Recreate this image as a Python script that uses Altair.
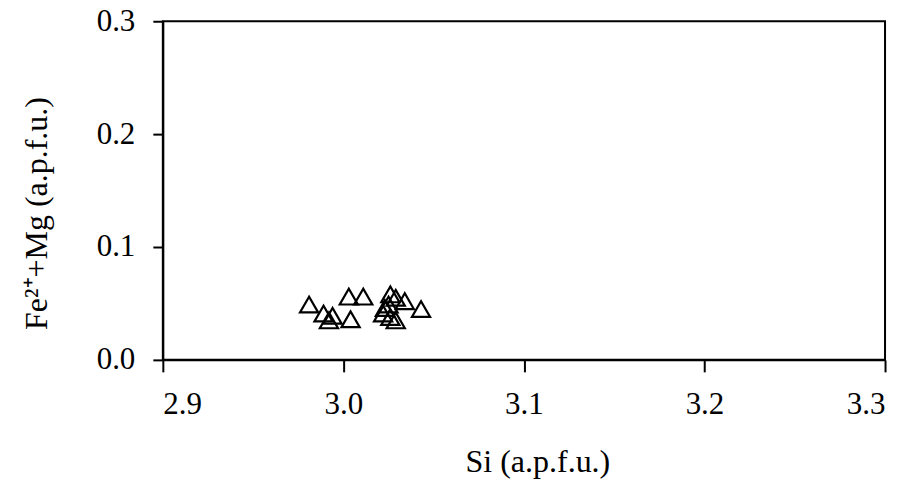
import altair as alt
import pandas as pd

si = [2.981, 2.989, 2.994, 2.992, 3.004, 3.003, 3.011, 3.026, 3.029, 3.034,
      3.022, 3.026, 3.029, 3.043, 3.025, 3.023]
fe_mg = [0.049, 0.041, 0.039, 0.035, 0.036, 0.056, 0.056, 0.058, 0.055, 0.052,
         0.041, 0.038, 0.035, 0.045, 0.049, 0.046]

x_ticks = [2.9, 3.0, 3.1, 3.2, 3.3]
y_ticks = [0.0, 0.1, 0.2, 0.3]

df = pd.DataFrame({"si": si, "femg": fe_mg})

FONT = "Liberation Serif"

chart = alt.Chart(df).mark_point(
    shape="triangle-up", size=330, filled=False, stroke="black",
    strokeWidth=2.2, opacity=1
).encode(
    x=alt.X("si:Q", scale=alt.Scale(domain=[2.9, 3.3], nice=False, zero=False),
            axis=alt.Axis(values=x_ticks, format=".1f", title="Si (a.p.f.u.)",
                          grid=False, domainColor="black", domainWidth=2,
                          tickColor="black", tickWidth=2, tickSize=12,
                          labelFont=FONT, labelFontSize=31, labelColor="black",
                          labelBaseline="alphabetic", labelPadding=42,
                          titleFont=FONT, titleFontSize=32, titleFontWeight="normal",
                          titleColor="black", titleX=375, titleY=112,
                          titleBaseline="alphabetic", titleAlign="center")),
    y=alt.Y("femg:Q", scale=alt.Scale(domain=[0, 0.3], nice=False),
            axis=alt.Axis(values=y_ticks, format=".1f", title="Fe²⁺+Mg (a.p.f.u.)",
                          grid=False, domainColor="black", domainWidth=2,
                          tickColor="black", tickWidth=2, tickSize=10,
                          labelFont=FONT, labelFontSize=31, labelColor="black",
                          labelPadding=18,
                          titleFont=FONT, titleFontSize=32, titleFontWeight="normal",
                          titleColor="black", titleX=-116, titleY=192,
                          titleBaseline="alphabetic", titleAlign="center",
                          titleAngle=270)),
).properties(
    width=723, height=339,
    autosize="none",
    background="white",
    padding={"left": 155, "top": 13, "right": 30, "bottom": 122},
).configure_view(
    stroke="black", strokeWidth=2
)

chart.save("out.html", embed_options={"renderer": "svg", "actions": False})
